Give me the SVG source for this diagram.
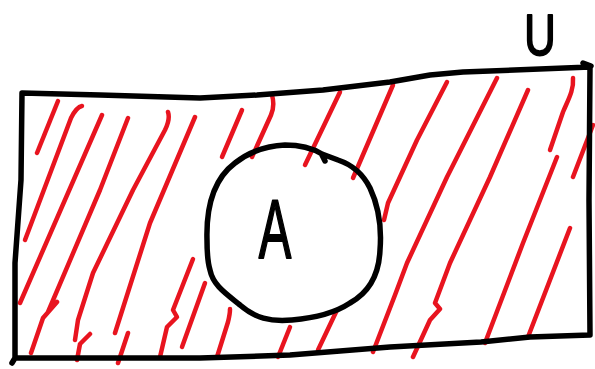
<svg xmlns="http://www.w3.org/2000/svg" width="595" height="369" viewBox="0 0 595 369">
<style>
.ink{fill:none;stroke:#000;stroke-width:5.5;stroke-linecap:round;stroke-linejoin:round}
.h{fill:none;stroke:#e8141f;stroke-width:4.5;stroke-linecap:round;stroke-linejoin:round}
.lbl{font-family:"Liberation Sans",Arial,sans-serif;fill:#000;stroke:#000;stroke-width:2;stroke-linejoin:round}
</style>
<rect width="595" height="369" fill="#fff"/>
<g id="hatching">
<path class="h" d="M58,101 L37,153"/>
<path class="h" d="M82,106 C77,107 74,112 71,118 L25,240"/>
<path class="h" d="M102,115 L20,303"/>
<path class="h" d="M128,118 L100,190 L48,312 L57,302 L43,318 L31,353"/>
<path class="h" d="M168,112 C170,118 168,124 165,130 L133,190 L93,273 L78,320 L75,340 M90,334 L80,344 L77,360"/>
<path class="h" d="M195,117 L150,223 L115,333 M128,333 L118,363"/>
<path class="h" d="M193,259 L173,310 L177,317 L167,327 L160,357"/>
<path class="h" d="M205,283 L182,347"/>
<path class="h" d="M242,110 L222,157"/>
<path class="h" d="M272,95 C274,102 274,108 271,115 L252,157"/>
<path class="h" d="M340,92 L305,165"/>
<path class="h" d="M393,85 L353,178"/>
<path class="h" d="M447,82 L417,140 L388,203 L384,220"/>
<path class="h" d="M230,309 C230,314 229,318 228,322 L217,357"/>
<path class="h" d="M290,327 L278,357"/>
<path class="h" d="M337,310 L318,350"/>
<path class="h" d="M497,78 L447,177 L407,263 L395,295 L373,352"/>
<path class="h" d="M528,90 L490,177 L450,263 L435,303 L440,309 L430,320 L413,357"/>
<path class="h" d="M573,78 C574,90 568,100 563,112 L550,150"/>
<path class="h" d="M593,125 L573,177"/>
<path class="h" d="M557,157 L523,243 L485,343"/>
<path class="h" d="M570,228 L528,337"/>
</g>
<g id="universe">
<path class="ink" d="M22,93 L100,95 L200,98 L257,95 L323,90 L390,82 L430,75 L463,72 L590,67 L589,200 L590,335 L530,337 L481,342 L390,347 L290,355 L200,358 L15,358 L12,363 M15,358 L15,263 L21,180 L22,93 M583,63 L591,66"/>
<text class="lbl" font-size="58" text-anchor="middle" transform="translate(540,55) scale(0.75,1)">U</text>
</g>
<g id="setA">
<path class="ink" d="M207,240 C206,205 215,178 235,163 C250,151 265,146 285,145 C300,145 312,148 322,154 L338,160 C350,164 362,172 370,188 C378,205 382,225 380,250 C379,275 368,293 350,303 C335,313 315,318 292,320 C270,322 255,318 240,305 C225,293 213,285 210,270 C207,260 207,250 207,240 Z M322,155 L325,161"/>
<text class="lbl" font-size="84" text-anchor="middle" transform="translate(275,258) scale(0.58,1)">A</text>
</g>
</svg>
